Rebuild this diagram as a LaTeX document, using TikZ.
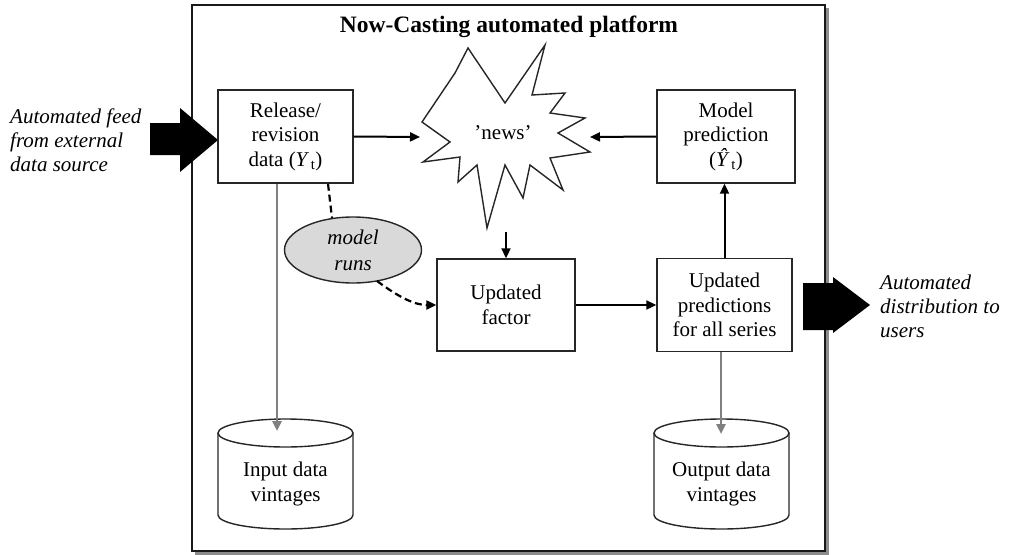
\documentclass[tikz,border=0pt]{standalone}
\usepackage{fontspec}
\setmainfont{Liberation Serif}
\usetikzlibrary{arrows.meta,shapes.geometric}
\begin{document}
\begin{tikzpicture}[x=1pt,y=-1pt,
 box/.style={draw=black!85,line width=1.4pt,minimum width=135pt,minimum height=93pt,inner sep=0pt,align=center,font=\fontsize{21}{24.5}\selectfont},
 arr/.style={line width=2pt,-{Triangle[length=10pt,width=9pt]}},
 garr/.style={draw=black!50,line width=2.6pt,-{Triangle[length=10pt,width=9pt]}},
 dsh/.style={line width=2.2pt,dash pattern=on 7pt off 4pt},
 txt/.style={font=\fontsize{21}{25}\selectfont,align=center,inner sep=0pt},
 itxt/.style={font=\fontsize{21}{24}\selectfont\itshape,align=left,inner sep=0pt,anchor=west},
 cyl/.style={draw=black!85,line width=1.4pt},
]
\useasboundingbox (0,0) rectangle (1016,554);
% frame with shadow
\draw[black!45,line width=2.4pt] (827.5,8) -- (827.5,553.5) -- (195,553.5);
\draw[black!90,line width=1.8pt] (192,5) rectangle (825,551);
\node[font=\fontsize{23.5}{26}\selectfont\bfseries,inner sep=0pt] (title) at (509,27) {Now-Casting automated platform};

% big arrows
\fill (150,123) -- (180,123) -- (180,108) -- (218,140) -- (180,172) -- (180,155) -- (150,155) -- cycle;
\fill (803,283) -- (833,283) -- (833,277) -- (870,305) -- (833,333) -- (833,330) -- (803,330) -- cycle;
\node[itxt] (feed) at (10,140) {Automated feed\\from external\\data source};
\node[itxt] (dist) at (880,306) {Automated\\distribution to\\users};

% boxes
\node[box] (rel) at (285.5,136.5) {Release/\\revision\\data ({\itshape Y}\,\textsubscript{t})};
\node[box,minimum width=138pt] (mp) at (726,136.5) {Model\\prediction\\({\itshape Ŷ}\,\textsubscript{t})};
\node[box,minimum width=138pt,minimum height=92pt] (uf) at (506,305) {Updated\\factor};
\node[box] (up) at (724.5,305) {Updated\\predictions\\for all series};

% news star
\draw[draw=black!85,line width=1.4pt,fill=white] (422,122) -- (450,142) -- (423,162) -- (460,157) -- (458,182) -- (477,165) -- (487,228) -- (505,165) -- (523,198) -- (530,165) -- (563,190) -- (550,158) -- (590,152) -- (558,133) -- (585,118) -- (550,113) -- (565,93) -- (532,95) -- (545,45) -- (505,103) -- (468,48) -- (455,73) -- cycle;
\node[txt] (news) at (503,133) {’news’};
\coordinate (newsL) at (420,137);
\coordinate (newsR) at (590,137);
\coordinate (newsB) at (506,232);

% model runs ellipse
\node[ellipse,draw=black!85,line width=1.4pt,fill=black!15,minimum width=137pt,minimum height=66pt,inner sep=0pt,align=center,font=\fontsize{21}{26}\selectfont\itshape] (mr) at (353,250) {model\\runs};
\coordinate (mrTop) at (332,218);
\coordinate (mrBot) at (377,281);
\coordinate (d1) at (328,200);

% cylinders
\draw[cyl] (218,433) -- (218,515) arc[start angle=180,end angle=360,x radius=67.5pt,y radius=14pt] -- (353,433);
\draw[cyl] (285.5,433) ellipse[x radius=67.5pt,y radius=14pt];
\node[txt] (incyl) at (285.5,484) {Input data\\vintages};
\draw[cyl] (654,433) -- (654,515) arc[start angle=180,end angle=360,x radius=67.5pt,y radius=14pt] -- (789,433);
\draw[cyl] (721.5,433) ellipse[x radius=67.5pt,y radius=14pt];
\node[txt] (outcyl) at (721.5,484) {Output data\\vintages};
\coordinate (inTop) at (277,431);
\coordinate (outTop) at (721,434);

% connectors
\draw[arr] (rel.east) -- (newsL);
\draw[arr] (mp.west) -- (newsR);
\draw[arr] (newsB) -- (uf.north);
\draw[arr] (uf.east) -- (up.west);
\draw[arr] (up.north) -- (up.north |- mp.south);
\draw[garr] (rel.south -| inTop) -- (inTop);
\draw[garr] (up.south -| outTop) -- (outTop);
\draw[dsh] (rel.south -| d1) -- (mrTop);
\draw[dsh,-{Triangle[length=10pt,width=9pt]}] (mrBot) .. controls (400,298) and (415,305) .. (uf.west);
\end{tikzpicture}
\end{document}
